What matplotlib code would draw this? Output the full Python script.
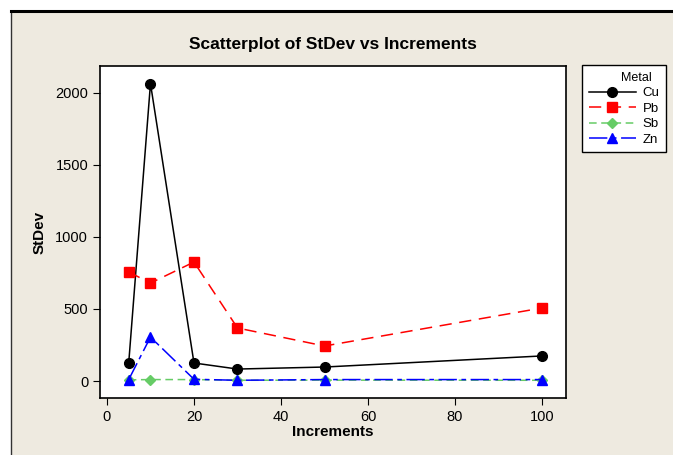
import matplotlib.pyplot as plt
import numpy as np

increments = [5, 10, 20, 30, 50, 100]
cu = [125, 2065, 125, 83, 97, 174]
pb = [757, 680, 826, 368, 243, 507]
sb = [8, 10, 10, 5, 6, 5]
zn = [10, 305, 12, 5, 10, 10]

plt.rcParams['font.family'] = ['Liberation Sans', 'DejaVu Sans']

bg = '#EEEAE0'
fig = plt.figure(figsize=(6.73, 4.55), dpi=100)
fig.patch.set_facecolor('white')

# beige panel with the border at top and left
W, H = 673, 455
panel = fig.add_axes([11 / W, 0, 1 - 11 / W, 1 - 11 / H])
panel.set_facecolor(bg)
panel.set_xticks([])
panel.set_yticks([])
for s in ['right', 'bottom']:
    panel.spines[s].set_visible(False)
panel.spines['top'].set_linewidth(2.2)
panel.spines['top'].set_color('black')
panel.spines['left'].set_linewidth(1.0)
panel.spines['left'].set_color('#333333')

ax = fig.add_axes([100 / W, 1 - 398 / H, (566 - 100) / W, (398 - 66) / H])
ax.set_facecolor('white')

ax.plot(increments, cu, color='black', lw=1.1, marker='o', ms=7, label='Cu')
ax.plot(increments, pb, color='red', lw=1.1, ls=(0, (8, 5)), marker='s', ms=6.5, label='Pb')
ax.plot(increments, sb, color='#66CC66', lw=1.1, ls=(0, (5, 3)), marker='D', ms=5.5, label='Sb')
ax.plot(increments, zn, color='blue', lw=1.1, ls=(0, (12, 3, 3, 3)), marker='^', ms=7, label='Zn')

ax.set_xlim(-1.6, 105.5)
ax.set_ylim(-118, 2187)
ax.set_xticks([0, 20, 40, 60, 80, 100])
ax.set_yticks([0, 500, 1000, 1500, 2000])
ax.tick_params(direction='out', length=5, labelsize=10.5, colors='black')
for s in ax.spines.values():
    s.set_linewidth(1.2)

ax.set_xlabel('Increments', fontsize=11, fontweight='bold', labelpad=1)
ax.set_ylabel('StDev', fontsize=11, fontweight='bold', labelpad=6)
fig.text(333 / W, 1 - 45 / H, 'Scatterplot of StDev vs Increments', ha='center', va='center',
         fontsize=12.5, fontweight='bold')

leg = ax.legend(loc='upper left', bbox_to_anchor=(582 / W, 1 - 65 / H), bbox_transform=fig.transFigure,
                title='Metal', fontsize=9.5, title_fontsize=9, frameon=True, fancybox=False,
                edgecolor='black', framealpha=1, handlelength=3.6, borderpad=0.5, labelspacing=0.25,
                handletextpad=0.5, borderaxespad=0, alignment='center')
leg.get_frame().set_linewidth(1.0)
leg.get_title().set_position((12, 0))

fig.savefig('out.png', dpi=100, facecolor=fig.get_facecolor())
